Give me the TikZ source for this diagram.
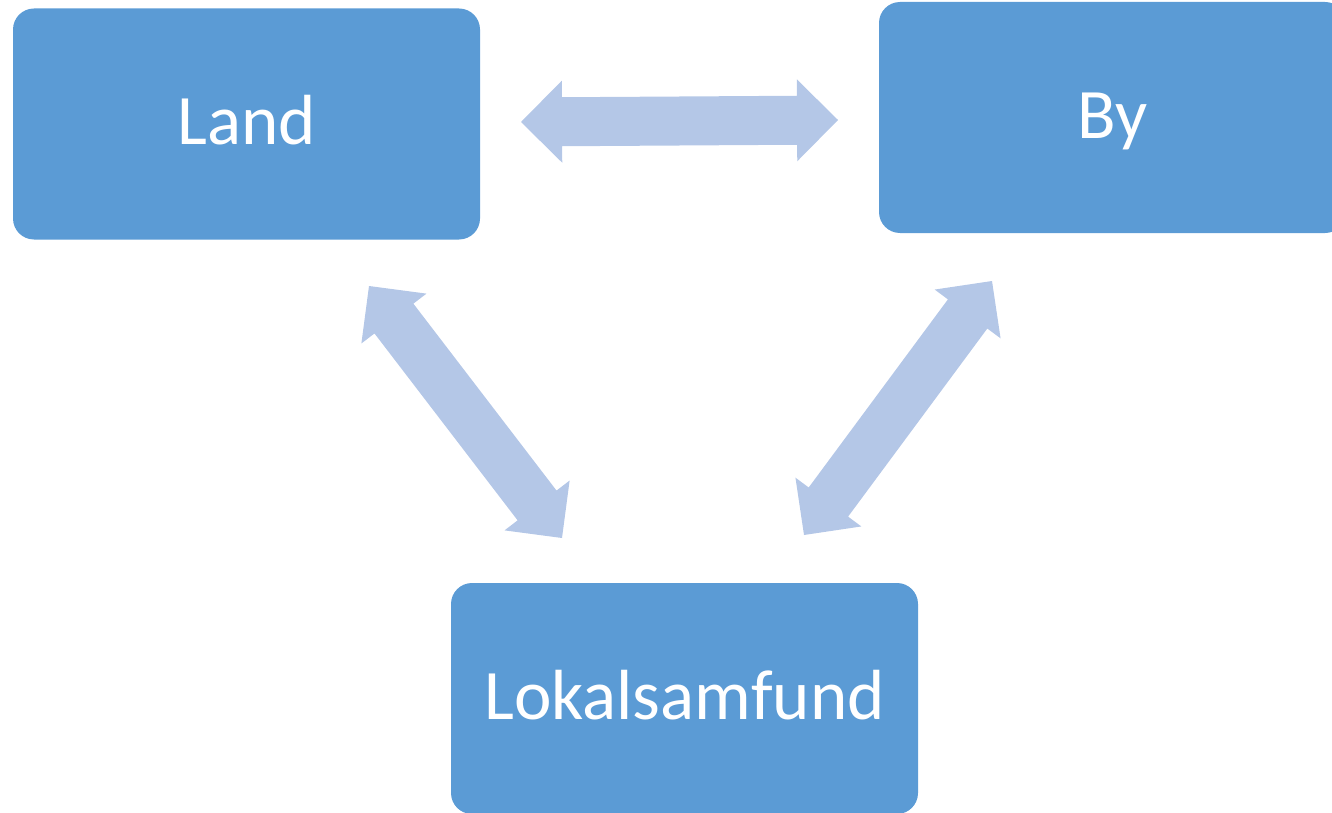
\documentclass[tikz,border=0pt]{standalone}
\usepackage{fontspec}
\setmainfont{Carlito}
\usetikzlibrary{calc}
\definecolor{boxblue}{HTML}{5B9BD5}
\definecolor{arrowblue}{HTML}{B4C7E7}
\begin{document}
\begin{tikzpicture}[x=1pt,y=-1pt,
  box/.style={fill=boxblue, rounded corners=21pt, minimum width=467pt, minimum height=231pt,
    inner sep=0pt, text=white, font=\fontsize{71}{80}\selectfont, text height=42pt, text depth=0pt},
  biarrow/.style={fill=arrowblue, to path={
    -- ($(\tikztostart)!41pt!(\tikztotarget)!41pt!90:(\tikztotarget)$)
    -- ($(\tikztostart)!41pt!(\tikztotarget)!24.5pt!90:(\tikztotarget)$)
    -- ($(\tikztotarget)!41pt!(\tikztostart)!24.5pt!-90:(\tikztostart)$)
    -- ($(\tikztotarget)!41pt!(\tikztostart)!41pt!-90:(\tikztostart)$)
    -- (\tikztotarget)
    -- ($(\tikztotarget)!41pt!(\tikztostart)!41pt!90:(\tikztostart)$)
    -- ($(\tikztotarget)!41pt!(\tikztostart)!24.5pt!90:(\tikztostart)$)
    -- ($(\tikztostart)!41pt!(\tikztotarget)!24.5pt!-90:(\tikztotarget)$)
    -- ($(\tikztostart)!41pt!(\tikztotarget)!41pt!-90:(\tikztotarget)$)
    -- cycle}}]
\useasboundingbox (0,0) rectangle (1332,813);
\node[box] (land) at (246.5,124) {Land};
\node[box] (by) at (1112.5,117.5) {By};
\node[box] (lokal) at (684.5,698.5) {Lokalsamfund};
\coordinate (hL) at (521,122);
\coordinate (hR) at (838,120);
\coordinate (lT) at (369,286);
\coordinate (lB) at (562,538);
\coordinate (rT) at (992,281);
\coordinate (rB) at (804,535);
\path[biarrow] (hL) to (hR);
\path[biarrow] (lT) to (lB);
\path[biarrow] (rT) to (rB);
\end{tikzpicture}
\end{document}
